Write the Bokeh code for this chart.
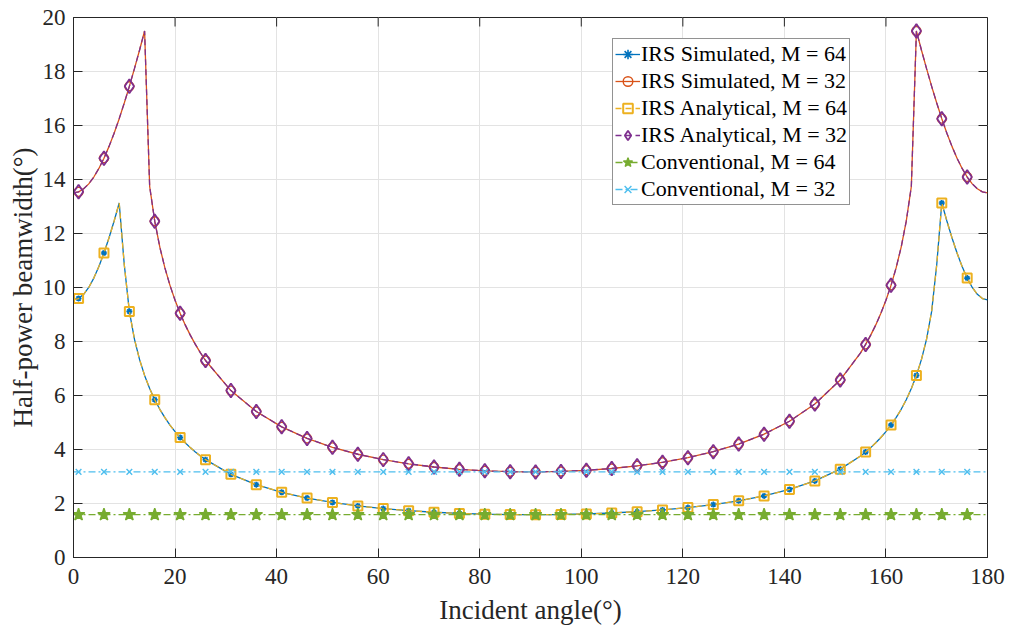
from bokeh.plotting import figure
from bokeh.models import Range1d, FixedTicker, Legend, LegendItem
from bokeh.embed import file_html
from bokeh.resources import INLINE

# ---------------- data ----------------
angles = [0, 1, 2, 3, 4, 5, 6, 7, 8, 9, 10, 11, 12, 13, 14, 15, 16, 17, 18, 19, 20, 21, 22, 23, 24, 25,
          26, 31, 36, 41, 46, 51, 56, 61, 66, 71, 76, 81, 86, 91, 96, 101, 106, 111, 116, 121, 126,
          131, 136, 141, 146, 151,
          155, 156, 157, 158, 159, 160, 161, 162, 163, 164, 165, 166, 167, 168, 169, 170, 171, 172,
          173, 174, 175, 176, 177, 178, 179, 180]

irs_sim_m64 = [9.539, 9.592, 9.748, 10.002, 10.348, 10.776, 11.277, 11.842, 12.462, 13.129, 10.844,
               9.114, 8.088, 7.338, 6.744, 6.256, 5.844, 5.489, 5.179, 4.905, 4.662, 4.443, 4.249,
               4.070, 3.908, 3.760,
               3.623, 3.080, 2.697, 2.416, 2.203, 2.039, 1.911, 1.812, 1.735, 1.676, 1.633, 1.604,
               1.588, 1.585, 1.593, 1.614, 1.648, 1.697, 1.763, 1.849, 1.959, 2.100, 2.282, 2.519,
               2.836, 3.273,
               3.760, 3.908, 4.070, 4.249, 4.443, 4.662, 4.905, 5.179, 5.489, 5.844, 6.256, 6.744,
               7.338, 8.088, 9.114, 10.844, 13.129, 12.462, 11.842, 11.277, 10.776, 10.348, 10.002,
               9.748, 9.592, 9.539]

irs_sim_m32 = [13.506, 13.543, 13.655, 13.838, 14.091, 14.410, 14.790, 15.227, 15.716, 16.253, 16.833,
               17.451, 18.104, 18.787, 19.499, 13.741, 12.456, 11.497, 10.726, 10.080, 9.527, 9.043,
               8.615, 8.235, 7.892, 7.580,
               7.296, 6.181, 5.405, 4.838, 4.410, 4.080, 3.824, 3.625, 3.470, 3.352, 3.267, 3.209,
               3.177, 3.170, 3.187, 3.229, 3.297, 3.395, 3.527, 3.698, 3.919, 4.202, 4.567, 5.045,
               5.685, 6.576,
               7.580, 7.892, 8.235, 8.615, 9.043, 9.527, 10.080, 10.726, 11.497, 12.456, 13.741,
               19.499, 18.787, 18.104, 17.451, 16.833, 16.253, 15.716, 15.227, 14.790, 14.410,
               14.091, 13.838, 13.655, 13.543, 13.506]

irs_ana_m64 = list(irs_sim_m64)
irs_ana_m32 = list(irs_sim_m32)

conv_m64 = [1.585] * len(angles)
conv_m32 = [3.170] * len(angles)

series_labels = ["IRS Simulated, M = 64", "IRS Simulated, M = 32",
                 "IRS Analytical, M = 64", "IRS Analytical, M = 32",
                 "Conventional, M = 64", "Conventional, M = 32"]

x_ticks = [0, 20, 40, 60, 80, 100, 120, 140, 160, 180]
y_ticks = [0, 2, 4, 6, 8, 10, 12, 14, 16, 18, 20]

# marker positions: every 5 degrees starting at 1
mk_idx = [i for i, a in enumerate(angles) if (a - 1) % 5 == 0 and a <= 176]

FONT = "Liberation Serif"
AX = "#262626"
X0, X1, Y0, Y1 = 0, 180, 0, 20
FRAME_W, FRAME_H = 914, 540
TICK_PX = 9

p = figure(width=1011, height=631, x_range=Range1d(X0, X1), y_range=Range1d(Y0, Y1),
           output_backend="svg", toolbar_location=None,
           min_border_left=73, min_border_right=24, min_border_top=17, min_border_bottom=74)
p.background_fill_color = "white"
p.outline_line_color = AX
p.outline_line_width = 1

for ax in (p.xaxis[0], p.yaxis[0]):
    ax.axis_line_color = AX
    ax.major_tick_line_color = AX
    ax.major_tick_in = TICK_PX
    ax.major_tick_out = 0
    ax.minor_tick_line_color = None
    ax.major_label_text_font = FONT
    ax.major_label_text_font_size = "23px"
    ax.major_label_text_color = "#262626"
    ax.axis_label_text_font = FONT
    ax.axis_label_text_font_size = "27px"
    ax.axis_label_text_font_style = "normal"
    ax.axis_label_text_color = "#262626"

p.xaxis[0].ticker = FixedTicker(ticks=x_ticks)
p.yaxis[0].ticker = FixedTicker(ticks=y_ticks)
p.xaxis[0].axis_label = "Incident angle(°)"
p.yaxis[0].axis_label = "Half-power beamwidth(°)"
p.xaxis[0].major_label_standoff = 11
p.yaxis[0].major_label_standoff = 8
p.xaxis[0].axis_label_standoff = 8
p.yaxis[0].axis_label_standoff = 2

# inward ticks on the top and right edges of the box (MATLAB "box on")
tx = TICK_PX * (X1 - X0) / FRAME_W
ty = TICK_PX * (Y1 - Y0) / FRAME_H
p.segment(x0=x_ticks, y0=[Y1] * len(x_ticks), x1=x_ticks, y1=[Y1 - ty] * len(x_ticks),
          line_color=AX, line_width=1)
p.segment(x0=[X1] * len(y_ticks), y0=y_ticks, x1=[X1 - tx] * len(y_ticks), y1=y_ticks,
          line_color=AX, line_width=1)

p.xgrid.ticker = FixedTicker(ticks=x_ticks)
p.ygrid.ticker = FixedTicker(ticks=y_ticks)
p.grid.grid_line_color = "#e3e3e3"
p.grid.grid_line_width = 1

items = []

def add_series(label, xs, ys, color, dash, marker, size, fill, mlw=1.4, lw=1.3):
    r1 = p.line(xs, ys, line_color=color, line_width=lw, line_dash=dash)
    mx = [xs[i] for i in mk_idx]
    my = [ys[i] for i in mk_idx]
    r2 = p.scatter(mx, my, marker=marker, size=size, line_color=color, line_width=mlw,
                   fill_color=fill if fill else None)
    items.append(LegendItem(label=label, renderers=[r1, r2]))

add_series(series_labels[0], angles, irs_sim_m64, "#0072BD", "solid", "asterisk", 6, None, mlw=1.6)
add_series(series_labels[1], angles, irs_sim_m32, "#D95319", "solid", "circle", 9, None)
add_series(series_labels[2], angles, irs_ana_m64, "#EDB120", "6 4", "square", 9, None, mlw=2.0)
add_series(series_labels[3], angles, irs_ana_m32, "#7E2F8E", "6 4", "diamond", 14, None, mlw=1.8)
add_series(series_labels[4], angles, conv_m64, "#77AC30", "7 3 2 3", "star", 13, "#77AC30")
add_series(series_labels[5], angles, conv_m32, "#4DBEEE", "7 3 2 3", "x", 8, None)

legend = Legend(items=items, location=(539, 352), orientation="vertical",
                label_text_font=FONT, label_text_font_size="22px", label_text_color="#000000",
                label_text_line_height=1.0,
                glyph_width=25, glyph_height=24, label_height=24, spacing=1, padding=2,
                margin=0, label_standoff=1, border_line_color=AX, border_line_width=1,
                background_fill_color="white", background_fill_alpha=1.0)
p.add_layout(legend, "center")

open("out.html", "w").write(file_html(p, INLINE))
